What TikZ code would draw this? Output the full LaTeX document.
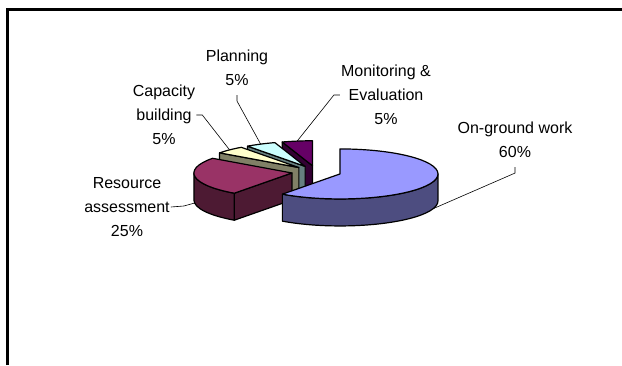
\documentclass[tikz,border=0pt]{standalone}
\usepackage{fontspec}
\setmainfont{Liberation Sans}
\usetikzlibrary{calc}

\definecolor{onwTop}{HTML}{9999FF}
\definecolor{onwSide}{HTML}{4D4D80}
\definecolor{resTop}{HTML}{993366}
\definecolor{resSide}{HTML}{4D1A33}
\definecolor{capTop}{HTML}{FFFFCC}
\definecolor{capSide}{HTML}{808066}
\definecolor{planTop}{HTML}{CCFFFF}
\definecolor{planSide}{HTML}{668080}
\definecolor{monTop}{HTML}{660066}
\definecolor{monSide}{HTML}{330033}

\begin{document}
\begin{tikzpicture}[x=1pt,y=1pt]
	\tikzset{slice/.style={
		draw=black, line width=1.2pt, line join=round
	}}
	\tikzset{caption/.style={
		align=center, inner sep=1pt, font=\fontsize{16}{24}\selectfont
	}}
	\tikzset{leader/.style={
		draw=black, line width=0.6pt
	}}

	\useasboundingbox (0,0) rectangle (622,365);

	% Frame (cut at right and bottom)
	\draw[line width=2.5pt] (7.5,0) -- (7.5,355.3) -- (622,355.3);

	% Centre of the pie
	\coordinate (C) at (316.4,193);

	% Monitoring & Evaluation (90-108)
	\coordinate (mon) at ($(C)+(99:24.8 and 6.3)$);
	\draw[slice, fill=monSide] (mon) -- ++(108:98 and 25) -- ++(0,-27) -- ($(mon)+(0,-27)$) -- cycle;
	\draw[slice, fill=monTop] (mon) -- ++(90:98 and 25) arc[start angle=90, end angle=108, x radius=98, y radius=25] -- cycle;

	% Planning (108-126)
	\coordinate (plan) at ($(C)+(117:24.8 and 6.3)$);
	\draw[slice, fill=planSide] (plan) -- ++(126:98 and 25) -- ++(0,-27) -- ($(plan)+(0,-27)$) -- cycle;
	\draw[slice, fill=planTop] (plan) -- ++(108:98 and 25) arc[start angle=108, end angle=126, x radius=98, y radius=25] -- cycle;

	% Capacity building (126-144)
	\coordinate (cap) at ($(C)+(135:24.8 and 6.3)$);
	\draw[slice, fill=capSide] (cap) -- ++(144:98 and 25) -- ++(0,-27) -- ($(cap)+(0,-27)$) -- cycle;
	\draw[slice, fill=capTop] (cap) -- ++(126:98 and 25) arc[start angle=126, end angle=144, x radius=98, y radius=25] -- cycle;

	% Resource assessment (144-234)
	\coordinate (res) at ($(C)+(189:24.8 and 6.3)$);
	\draw[slice, fill=resSide] (res) -- ++(234:98 and 25) -- ++(0,-27) -- ($(res)+(0,-27)$) -- cycle;
	\draw[slice, fill=resSide] ($(res)+(180:98 and 25)$) arc[start angle=180, end angle=234, x radius=98, y radius=25]
		-- ++(0,-27) arc[start angle=234, end angle=180, x radius=98, y radius=25] -- cycle;
	\draw[slice, fill=resTop] (res) -- ++(144:98 and 25) arc[start angle=144, end angle=234, x radius=98, y radius=25] -- cycle;

	% On-ground work (234-450)
	\coordinate (onw) at ($(C)+(-18:24.8 and 6.3)$);
	\draw[slice, fill=onwSide] ($(onw)+(234:98 and 25)$) arc[start angle=234, end angle=360, x radius=98, y radius=25]
		-- ++(0,-27) arc[start angle=360, end angle=234, x radius=98, y radius=25] -- cycle;
	\draw[slice, fill=onwTop] (onw) -- ++(90:98 and 25) arc[start angle=90, end angle=-126, x radius=98, y radius=25] -- cycle;

	% Leader tips
	\coordinate (mon-tip)  at ($(mon)+(99:98 and 25)$);
	\coordinate (plan-tip) at ($(plan)+(117:98 and 25)$);
	\coordinate (cap-tip)  at ($(cap)+(135:98 and 25)$);
	\coordinate (res-tip)  at ($(res)+(189:98 and 25)+(0,-26)$);
	\coordinate (onw-tip)  at ($(onw)+(-18:98 and 25)+(0,-27)$);

	% Labels
	\node (mon-lab)  [caption] at (386,270) {Monitoring \&\\Evaluation\\5\%};
	\node (plan-lab) [caption] at (237,297) {Planning\\5\%};
	\node (cap-lab)  [caption] at (164,250) {Capacity\\building\\5\%};
	\node (res-lab)  [caption] at (127,158) {Resource\\assessment\\25\%};
	\node (onw-lab)  [caption] at (515,225) {On-ground work\\60\%};

	% Leader lines
	\draw[leader] (mon-lab.west) -- ++(-6,0) -- (mon-tip);
	\draw[leader] ([yshift=-8pt] plan-lab.south) -- ++(0,-6) -- (plan-tip);
	\draw[leader] (cap-lab.east) -- ++(6,0) -- (cap-tip);
	\draw[leader] (res-lab.east) -- ++(13,1) -- (res-tip);
	\draw[leader] ([yshift=-8pt] onw-lab.south) -- ++(0,-6) -- (onw-tip);
\end{tikzpicture}
\end{document}
